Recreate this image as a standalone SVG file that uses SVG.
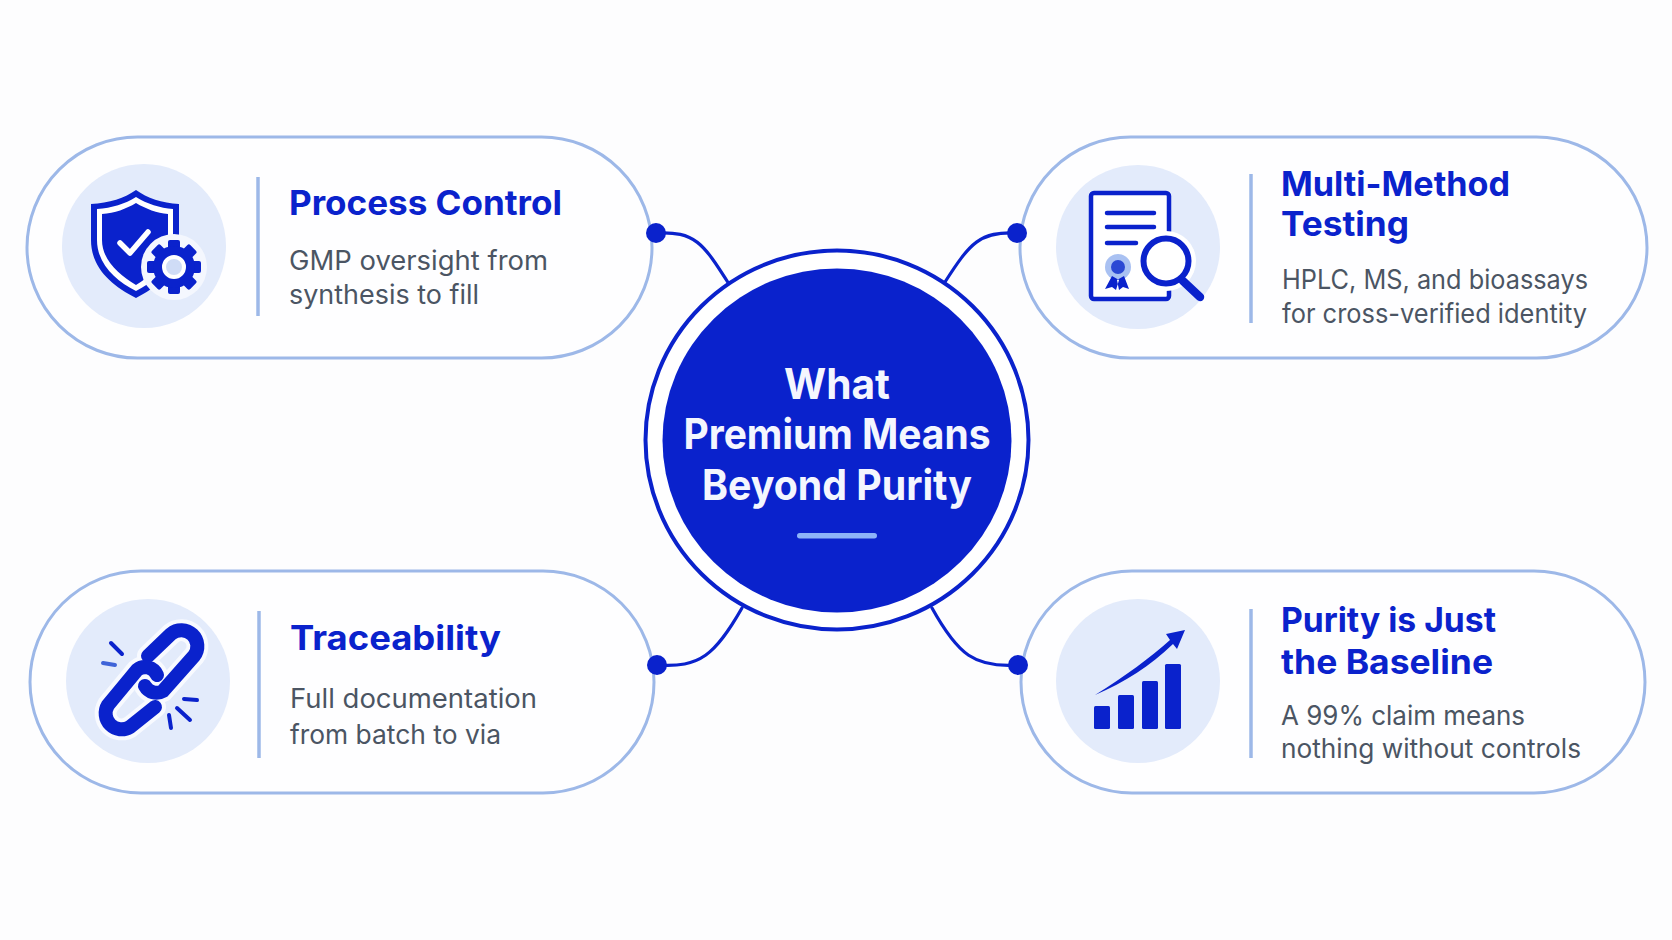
<svg xmlns="http://www.w3.org/2000/svg" width="1672" height="940" viewBox="0 0 1672 940">
<style>
.pill{fill:#fefeff;stroke:#9db8e8;stroke-width:3}
.disc{fill:#e3ebfb}
.sep{stroke:#9db8e8;stroke-width:3.5}
.h{font-family:Inter,"Liberation Sans",sans-serif;font-weight:700;font-size:34px;fill:#0a22cc}
.b{font-family:Inter,"Liberation Sans",sans-serif;font-weight:400;font-size:26.5px;fill:#4b5563}
.c{font-family:Inter,"Liberation Sans",sans-serif;font-weight:700;font-size:42px;fill:#f4f6fe;text-anchor:middle}
.conn{fill:none;stroke:#0a22cc;stroke-width:3.2;stroke-linecap:round}
.dot{fill:#0a22cc}
.ink{fill:#0a22cc}
.line{stroke:#0a22cc;fill:none;stroke-linecap:round}
</style>
<defs>
<g id="gearbase">
<rect x="-6" y="-27" width="12" height="54" rx="2" class="ink"/>
</g>
</defs>
<rect width="1672" height="940" fill="#fdfdfe"/>
<g id="node-process">
<rect class="pill" x="27" y="137" width="625" height="221" rx="110.5"/>
<circle class="disc" cx="144" cy="246" r="82"/>
<path class="ink" d="M136,190 C147,198 162,203 179,204 V240 C179,268 160,286 136,298 C112,286 91,268 91,240 V204 C109,203 125,198 136,190Z"/>
<path d="M136,197 C147,204 160,208 173,209 V240 C173,264 156,281 136,291 C116,281 97,264 97,240 V209 C112,208 125,204 136,197Z" fill="#fff"/>
<path class="ink" d="M136,203 C146,209 157,213 168,214 V240 C168,260 153,275 136,285 C119,275 102,260 102,240 V214 C115,213 126,209 136,203Z"/>
<path d="M120,243 L130,253 L148,232" fill="none" stroke="#fff" stroke-width="5.5" stroke-linecap="round" stroke-linejoin="round"/>
<circle cx="174" cy="267" r="33" fill="#f4f7fe"/>
<use href="#gearbase" transform="translate(174 267)"/>
<use href="#gearbase" transform="translate(174 267) rotate(45)"/>
<use href="#gearbase" transform="translate(174 267) rotate(90)"/>
<use href="#gearbase" transform="translate(174 267) rotate(135)"/>
<circle cx="174" cy="267" r="21" class="ink"/>
<circle cx="174" cy="267" r="10" fill="#cfdcf6" stroke="#fff" stroke-width="4"/>
<line class="sep" x1="258" y1="177" x2="258" y2="316"/>
<text class="h" x="289" y="215" textLength="273" lengthAdjust="spacingAndGlyphs">Process Control</text>
<text class="b" x="289" y="270" textLength="259" lengthAdjust="spacingAndGlyphs">GMP oversight from</text>
<text class="b" x="289" y="304" textLength="190" lengthAdjust="spacingAndGlyphs">synthesis to fill</text>
</g>
<g id="node-testing">
<rect class="pill" x="1020" y="137" width="627" height="221" rx="110.5"/>
<circle class="disc" cx="1138" cy="247" r="82"/>
<rect x="1091" y="193" width="78" height="106" rx="3" fill="#fff" stroke="#0a22cc" stroke-width="4.5"/>
<line class="line" x1="1107" y1="213" x2="1154" y2="213" stroke-width="4.5"/>
<line class="line" x1="1107" y1="227" x2="1154" y2="227" stroke-width="4.5"/>
<line class="line" x1="1107" y1="243" x2="1136" y2="243" stroke-width="4.5"/>
<circle cx="1118" cy="267" r="13" fill="#a9c1f2"/>
<circle cx="1118" cy="267" r="7" fill="#2b48d4"/>
<path class="ink" d="M1112,276 L1105,289 L1112,287 L1116,290 L1119,280Z M1124,276 L1129,289 L1123,287 L1119,290 L1117,280Z"/>
<circle cx="1166" cy="261" r="30" fill="#fff"/>
<circle cx="1166" cy="261" r="22.500" fill="#fff" stroke="#0a22cc" stroke-width="6"/>
<line class="line" x1="1183" y1="281" x2="1200" y2="297" stroke-width="8.500"/>
<line class="sep" x1="1251" y1="174" x2="1251" y2="323"/>
<text class="h" x="1281" y="196" textLength="229" lengthAdjust="spacingAndGlyphs">Multi-Method</text>
<text class="h" x="1281" y="236" textLength="128" lengthAdjust="spacingAndGlyphs">Testing</text>
<text class="b" x="1282" y="289" textLength="306" lengthAdjust="spacingAndGlyphs">HPLC, MS, and bioassays</text>
<text class="b" x="1282" y="323" textLength="305" lengthAdjust="spacingAndGlyphs">for cross-verified identity</text>
</g>
<g id="node-traceability">
<rect class="pill" x="30" y="571" width="624" height="222" rx="111"/>
<circle class="disc" cx="148" cy="681" r="82"/>
<path d="M148,656 L171,634 A16 16 0 0 1 194,656 L163,691 A13 13 0 0 1 145,686" fill="none" stroke="#f8faff" stroke-width="22" stroke-linecap="round"/>
<path d="M157,675 A13 13 0 0 0 137,670 L108,705 A16 16 0 0 0 130,727 L155,707" fill="none" stroke="#f8faff" stroke-width="22" stroke-linecap="round"/>
<path class="line" d="M148,656 L171,634 A16 16 0 0 1 194,656 L163,691 A13 13 0 0 1 145,686" stroke-width="14"/>
<path class="line" d="M157,675 A13 13 0 0 0 137,670 L108,705 A16 16 0 0 0 130,727 L155,707" stroke-width="14"/>
<line class="line" x1="111" y1="643" x2="122" y2="654" stroke-width="4"/>
<line x1="103" y1="663" x2="115" y2="665" stroke="#3f64d8" stroke-width="4" stroke-linecap="round"/>
<line class="line" x1="184" y1="699" x2="197" y2="700" stroke-width="4"/>
<line class="line" x1="177" y1="708" x2="190" y2="720" stroke-width="4"/>
<line class="line" x1="169" y1="715" x2="171" y2="728" stroke-width="4"/>
<line class="sep" x1="259" y1="611" x2="259" y2="758"/>
<text class="h" x="290" y="650" textLength="211" lengthAdjust="spacingAndGlyphs">Traceability</text>
<text class="b" x="290" y="708" textLength="247" lengthAdjust="spacingAndGlyphs">Full documentation</text>
<text class="b" x="290" y="744" textLength="211" lengthAdjust="spacingAndGlyphs">from batch to via</text>
</g>
<g id="node-baseline">
<rect class="pill" x="1021" y="571" width="624" height="222" rx="111"/>
<circle class="disc" cx="1138" cy="681" r="82"/>
<rect class="ink" x="1094" y="706" width="16" height="23" rx="1.500"/>
<rect class="ink" x="1118" y="695" width="16" height="34" rx="1.500"/>
<rect class="ink" x="1142" y="681" width="16" height="48" rx="1.500"/>
<rect class="ink" x="1165" y="664" width="16" height="65" rx="1.500"/>
<path class="ink" d="M1095,695 C1125,676 1150,658 1170,640 L1166,634 L1185,630 L1177,649 L1173,644 C1150,666 1125,682 1095,695Z"/>
<line class="sep" x1="1251" y1="609" x2="1251" y2="758"/>
<text class="h" x="1281" y="632" textLength="215" lengthAdjust="spacingAndGlyphs">Purity is Just</text>
<text class="h" x="1281" y="674" textLength="212" lengthAdjust="spacingAndGlyphs">the Baseline</text>
<text class="b" x="1281" y="725" textLength="244" lengthAdjust="spacingAndGlyphs">A 99% claim means</text>
<text class="b" x="1281" y="758" textLength="300" lengthAdjust="spacingAndGlyphs">nothing without controls</text>
</g>
<g id="connectors">
<path class="conn" d="M656,233 C695,231 703,243 729,284"/>
<path class="conn" d="M1017,233 C980,231 970,243 945,282"/>
<path class="conn" d="M657,665 C700,668 715,655 742,608"/>
<path class="conn" d="M1018,665 C975,668 958,655 932,608"/>
<circle class="dot" cx="656" cy="233" r="10"/>
<circle class="dot" cx="1017" cy="233" r="10"/>
<circle class="dot" cx="657" cy="665" r="10"/>
<circle class="dot" cx="1018" cy="665" r="10"/>
</g>
<g id="node-center">
<ellipse cx="837" cy="440" rx="191.500" ry="189.500" fill="#fff" stroke="#0a22cc" stroke-width="4"/>
<ellipse cx="837" cy="440.500" rx="174.500" ry="172" fill="#0a22cc"/>
<text class="c" x="837" y="399" textLength="106" lengthAdjust="spacingAndGlyphs">What</text>
<text class="c" x="837" y="449" textLength="307" lengthAdjust="spacingAndGlyphs">Premium Means</text>
<text class="c" x="837" y="500" textLength="270" lengthAdjust="spacingAndGlyphs">Beyond Purity</text>
<rect x="797" y="533" width="80" height="5.500" rx="2.700" fill="#8db4f8"/>
</g>
</svg>
